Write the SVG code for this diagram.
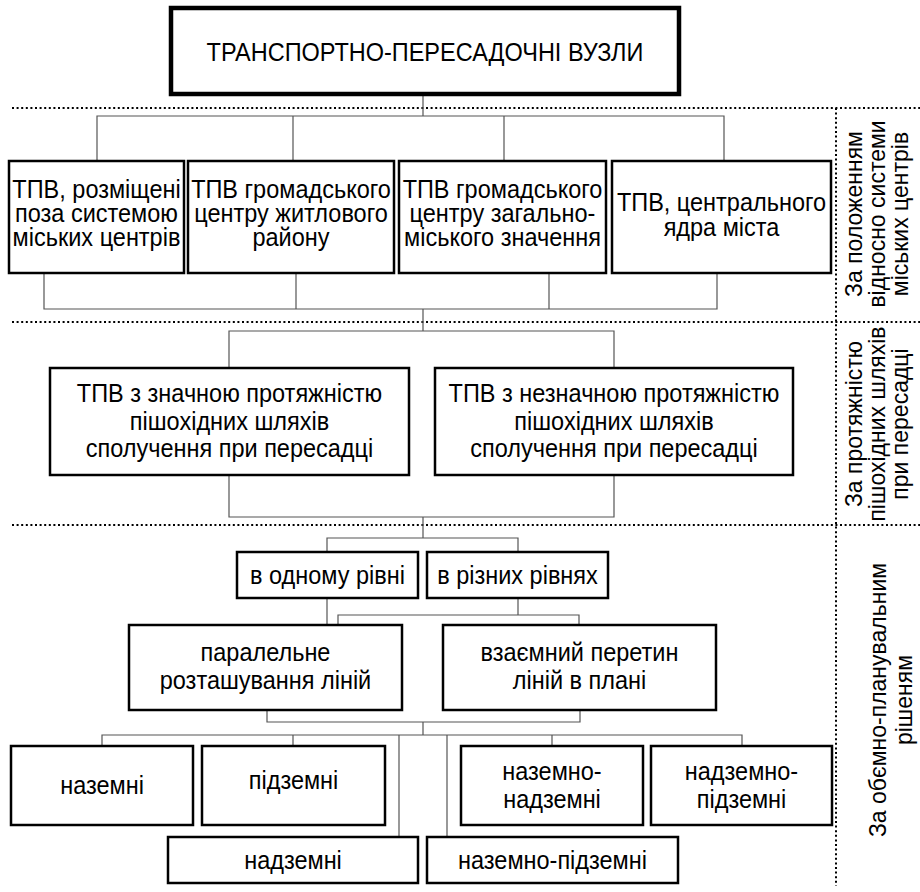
<svg xmlns="http://www.w3.org/2000/svg" width="920" height="892" viewBox="0 0 920 892">
<style>
.box{fill:#fff;stroke:#000;stroke-width:2.5}
.title{fill:#fff;stroke:#000;stroke-width:4.5}
.t{font-family:"Liberation Sans",Arial,sans-serif;font-size:25px;fill:#000;text-anchor:middle}
.s{font-family:"Liberation Sans",Arial,sans-serif;font-size:23px;fill:#000;text-anchor:middle}
.c{fill:none;stroke:#555;stroke-width:1.2}
.d{fill:none;stroke:#000;stroke-width:2;stroke-dasharray:2 2.6}
</style>
<rect width="920" height="892" fill="#fff"/>
<g id="guides">
<line class="d" x1="12" y1="108" x2="920" y2="108"/>
<line class="d" x1="12" y1="322" x2="920" y2="322"/>
<line class="d" x1="12" y1="525" x2="920" y2="525"/>
<line class="d" x1="836" y1="108" x2="836" y2="886"/>
</g>
<g id="connectors">
<path class="c" d="M423 94V116M97 161V116H724V161M293 116V161M504 116V161"/>
<path class="c" d="M44 273V309H717V273M296 273V309M549 273V309M423 309V331M229 368V331H614V368"/>
<path class="c" d="M229 475V517H614V475M423 517V538M327 552V538H518V552"/>
<path class="c" d="M327 598V625M518 598V615M338 625V615H579V625"/>
<path class="c" d="M267 710V722H580V710M423 722V735M102 746V735H742V746M293 735V746M552 735V746M399 735V837M447 735V837"/>
</g>
<g id="n0"><rect class="title" x="171" y="8" width="508" height="86"/><text class="t" transform="matrix(0.94 0 0 1 425 0)" x="0" y="61">ТРАНСПОРТНО-ПЕРЕСАДОЧНІ ВУЗЛИ</text></g>
<g id="n1"><rect class="box" x="9" y="161" width="175" height="112"/><g transform="matrix(0.94 0 0 1 96.5 0)"><text class="t" x="0" y="198">ТПВ, розміщені</text><text class="t" x="0" y="222">поза системою</text><text class="t" x="0" y="246">міських центрів</text></g></g>
<g id="n2"><rect class="box" x="188" y="161" width="206" height="112"/><g transform="matrix(0.94 0 0 1 291 0)"><text class="t" x="0" y="198">ТПВ громадського</text><text class="t" x="0" y="222">центру житлового</text><text class="t" x="0" y="246">району</text></g></g>
<g id="n3"><rect class="box" x="399" y="161" width="207" height="112"/><g transform="matrix(0.94 0 0 1 502.5 0)"><text class="t" x="0" y="198">ТПВ громадського</text><text class="t" x="0" y="222">центру загально-</text><text class="t" x="0" y="246">міського значення</text></g></g>
<g id="n4"><rect class="box" x="612" y="161" width="219" height="112"/><g transform="matrix(0.94 0 0 1 721.5 0)"><text class="t" x="0" y="211">ТПВ, центрального</text><text class="t" x="0" y="236">ядра міста</text></g></g>
<g id="n5"><rect class="box" x="50" y="368" width="359" height="107"/><g transform="matrix(0.94 0 0 1 229.5 0)"><text class="t" x="0" y="402">ТПВ з значною протяжністю</text><text class="t" x="0" y="430">пішохідних шляхів</text><text class="t" x="0" y="457">сполучення при пересадці</text></g></g>
<g id="n6"><rect class="box" x="435" y="368" width="358" height="107"/><g transform="matrix(0.94 0 0 1 614 0)"><text class="t" x="0" y="402">ТПВ з незначною протяжністю</text><text class="t" x="0" y="430">пішохідних шляхів</text><text class="t" x="0" y="457">сполучення при пересадці</text></g></g>
<g id="n7"><rect class="box" x="237" y="552" width="181" height="46"/><text class="t" transform="matrix(0.94 0 0 1 327.5 0)" x="0" y="584">в одному рівні</text></g>
<g id="n8"><rect class="box" x="427" y="552" width="181" height="46"/><text class="t" transform="matrix(0.94 0 0 1 517.5 0)" x="0" y="584">в різних рівнях</text></g>
<g id="n9"><rect class="box" x="129" y="625" width="273" height="85"/><g transform="matrix(0.94 0 0 1 265.5 0)"><text class="t" x="0" y="661">паралельне</text><text class="t" x="0" y="689">розташування ліній</text></g></g>
<g id="n10"><rect class="box" x="443" y="625" width="273" height="85"/><g transform="matrix(0.94 0 0 1 579.5 0)"><text class="t" x="0" y="661">взаємний перетин</text><text class="t" x="0" y="689">ліній в плані</text></g></g>
<g id="n11"><rect class="box" x="11" y="746" width="182" height="79"/><text class="t" transform="matrix(0.94 0 0 1 102 0)" x="0" y="794">наземні</text></g>
<g id="n12"><rect class="box" x="202" y="746" width="183" height="79"/><text class="t" transform="matrix(0.94 0 0 1 293.5 0)" x="0" y="789">підземні</text></g>
<g id="n13"><rect class="box" x="461" y="746" width="182" height="79"/><g transform="matrix(0.94 0 0 1 552 0)"><text class="t" x="0" y="780">наземно-</text><text class="t" x="0" y="808">надземні</text></g></g>
<g id="n14"><rect class="box" x="651" y="746" width="181" height="79"/><g transform="matrix(0.94 0 0 1 741.5 0)"><text class="t" x="0" y="780">надземно-</text><text class="t" x="0" y="808">підземні</text></g></g>
<g id="n15"><rect class="box" x="168" y="837" width="250" height="46"/><text class="t" transform="matrix(0.94 0 0 1 293 0)" x="0" y="869">надземні</text></g>
<g id="n16"><rect class="box" x="427" y="837" width="251" height="46"/><text class="t" transform="matrix(0.94 0 0 1 552.5 0)" x="0" y="869">наземно-підземні</text></g>
<g id="labels">
<text class="s" transform="translate(862 214) rotate(-90)">За положенням</text>
<text class="s" transform="translate(885 214) rotate(-90)">відносно системи</text>
<text class="s" transform="translate(908 214) rotate(-90)">міських центрів</text>
<text class="s" transform="translate(862 424) rotate(-90)">За протяжністю</text>
<text class="s" transform="translate(885 424) rotate(-90)">пішохідних шляхів</text>
<text class="s" transform="translate(908 424) rotate(-90)">при пересадці</text>
<text class="s" transform="translate(886 700) rotate(-90)">За обємно-планувальним</text>
<text class="s" transform="translate(912 700) rotate(-90)">рішеням</text>
</g>
</svg>
